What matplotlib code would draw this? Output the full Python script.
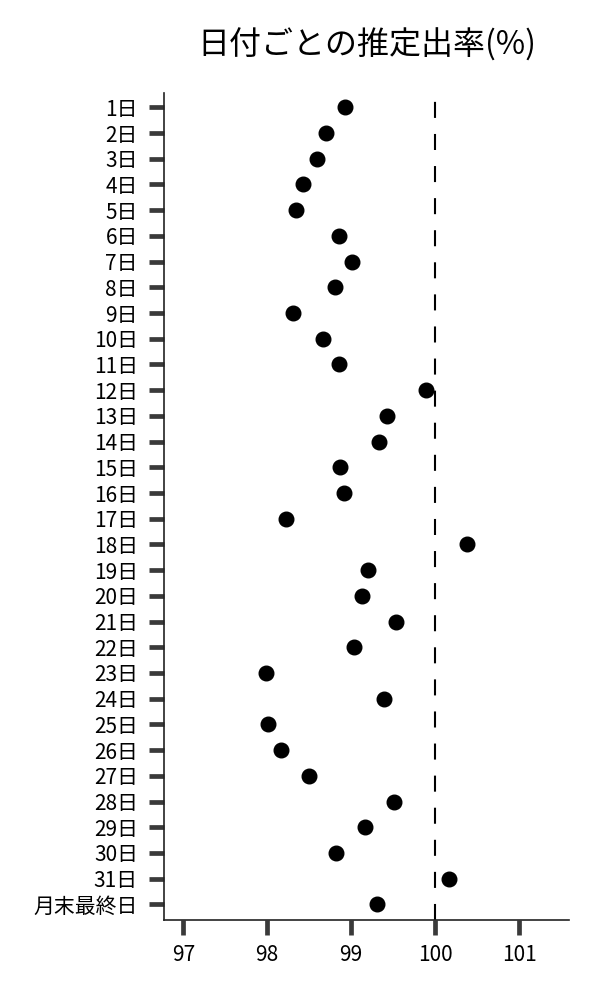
import matplotlib
matplotlib.use("Agg")
import matplotlib.pyplot as plt

plt.rcParams['font.family'] = ['Noto Sans CJK JP', 'DejaVu Sans']

labels = [f"{i}日" for i in range(1, 32)] + ["月末最終日"]
values = [98.93, 98.70, 98.59, 98.43, 98.34, 98.85, 99.01, 98.81, 98.31, 98.66,
          98.85, 99.89, 99.43, 99.33, 98.87, 98.92, 98.22, 100.38, 99.20, 99.13,
          99.53, 99.03, 97.99, 99.39, 98.01, 98.17, 98.50, 99.51, 99.16, 98.82,
          100.16, 99.31]
xticks = [97, 98, 99, 100, 101]
ref_value = 100
title = "日付ごとの推定出率(%)"

fig = plt.figure(figsize=(6, 10), dpi=100)
ax = fig.add_axes([0.2738, 0.0797, 0.9483 - 0.2738, 0.9073 - 0.0797])

ypos = list(range(len(labels)))
ax.plot(values, ypos, linestyle='none', marker='o', markersize=10.5,
        color='black', zorder=3)
ax.axvline(ref_value, color='black', linewidth=1.5, linestyle=(0, (7.7, 7.7)), zorder=2)

ax.set_yticks(ypos)
ax.set_yticklabels(labels)
ax.set_xticks(xticks)
ax.set_xticklabels([str(v) for v in xticks])
ax.set_xlim(96.774, 101.595)
ax.set_ylim(31.62, -0.57)

for s in ['top', 'right']:
    ax.spines[s].set_visible(False)
for s in ['left', 'bottom']:
    ax.spines[s].set_color('#222222')
    ax.spines[s].set_linewidth(1.2)

ax.tick_params(axis='y', length=11, width=3.4, color='#3a3a3a', pad=8, labelsize=15)
ax.tick_params(axis='x', length=11, width=3.4, color='#3a3a3a', pad=6, labelsize=15)

fig.text(367 / 600, 1 - 45 / 1000, title, ha='center', va='center', fontsize=23)

fig.savefig("out.png", dpi=100)
